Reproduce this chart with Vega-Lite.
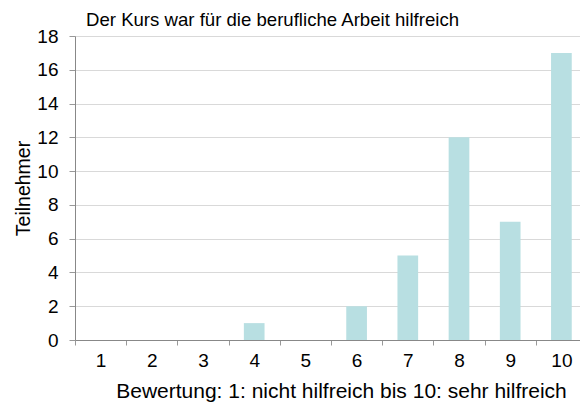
{
  "$schema": "https://vega.github.io/schema/vega-lite/v6.json",
  "autosize": {"type": "none"},
  "width": 505,
  "height": 304,
  "padding": {"left": 75, "top": 36, "right": 0, "bottom": 62},
  "background": "white",
  "title": {
    "text": "Der Kurs war für die berufliche Arbeit hilfreich",
    "anchor": "start",
    "frame": "group",
    "dx": 11,
    "offset": -3,
    "font": "Liberation Sans",
    "fontSize": 18.6,
    "fontWeight": "normal",
    "color": "black"
  },
  "data": {
    "values": [
      {"Bewertung": "1", "Teilnehmer": 0},
      {"Bewertung": "2", "Teilnehmer": 0},
      {"Bewertung": "3", "Teilnehmer": 0},
      {"Bewertung": "4", "Teilnehmer": 1},
      {"Bewertung": "5", "Teilnehmer": 0},
      {"Bewertung": "6", "Teilnehmer": 2},
      {"Bewertung": "7", "Teilnehmer": 5},
      {"Bewertung": "8", "Teilnehmer": 12},
      {"Bewertung": "9", "Teilnehmer": 7},
      {"Bewertung": "10", "Teilnehmer": 17}
    ]
  },
  "mark": {"type": "bar", "color": "#b8dfe2", "width": {"band": 0.404}},
  "encoding": {
    "x": {
      "field": "Bewertung",
      "type": "ordinal",
      "sort": null,
      "scale": {"range": [0, 512], "paddingInner": 0, "paddingOuter": 0},
      "axis": {
        "title": "Bewertung: 1: nicht hilfreich bis 10: sehr hilfreich",
        "labelAngle": 0,
        "tickBand": "extent",
        "tickSize": 5,
        "tickColor": "#999999",
        "domainColor": "#888888",
        "labelFont": "Liberation Sans",
        "labelFontSize": 19,
        "labelColor": "black",
        "labelPadding": 6,
        "titleFont": "Liberation Sans",
        "titleFontSize": 21,
        "titleFontWeight": "normal",
        "titleColor": "black",
        "titlePadding": 10,
        "titleX": 266,
        "grid": false
      }
    },
    "y": {
      "field": "Teilnehmer",
      "type": "quantitative",
      "scale": {"domain": [0, 18], "nice": false},
      "axis": {
        "title": "Teilnehmer",
        "values": [0, 2, 4, 6, 8, 10, 12, 14, 16, 18],
        "tickSize": 6,
        "tickColor": "#999999",
        "domainColor": "#888888",
        "gridColor": "#d9d9d9",
        "labelFont": "Liberation Sans",
        "labelFontSize": 19,
        "labelColor": "black",
        "labelPadding": 11,
        "titleFont": "Liberation Sans",
        "titleFontSize": 19.5,
        "titleFontWeight": "normal",
        "titleColor": "black",
        "titlePadding": 3
      }
    }
  },
  "config": {"view": {"stroke": null}}
}
